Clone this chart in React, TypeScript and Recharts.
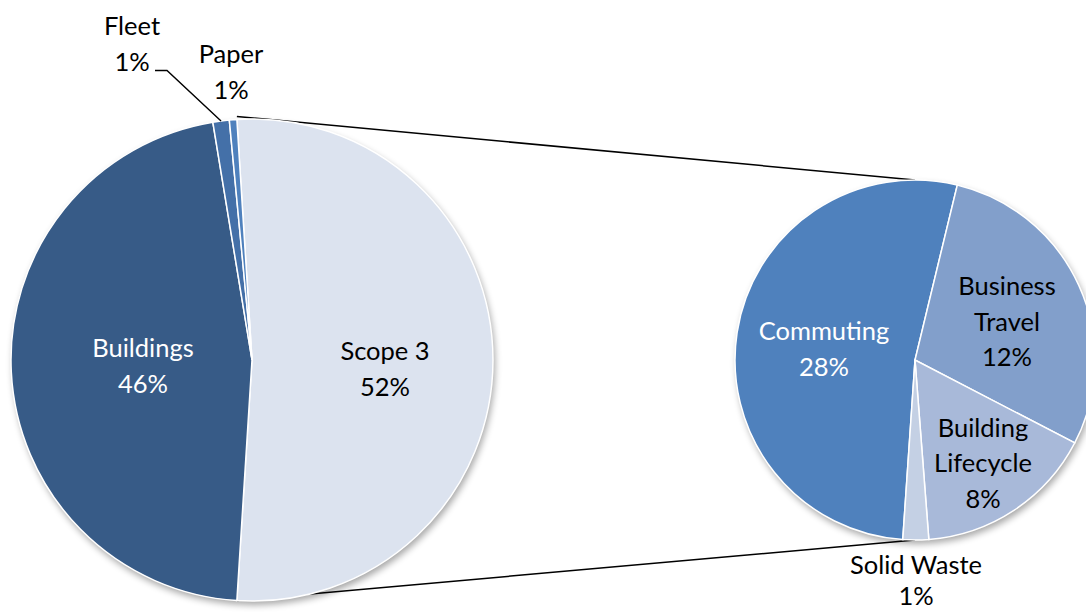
import React from 'react';
import { PieChart, Pie, Cell } from 'recharts';

// ---------- data ----------
const mainCategories = ['Scope 3', 'Buildings', 'Fleet', 'Paper'];
const mainValues = [52.0, 46.4, 1.1, 0.5];
const mainPctLabels = ['52%', '46%', '1%', '1%'];

const scope3Categories = ['Commuting', 'Business Travel', 'Building Lifecycle', 'Solid Waste'];
const scope3Values = [27.4, 15.0, 8.4, 1.2];
const scope3PctLabels = ['28%', '12%', '8%', '1%'];

// ---------- layout / style ----------
const W = 1086;
const H = 612;
const LEFT = { cx: 252, cy: 360, r: 241 };
const RIGHT = { cx: 915, cy: 360, r: 180 };
const RIGHT_START = 266.1; // degrees, where Commuting begins
const FONT = 'Lato, "Noto Sans", sans-serif';
const FONT_SIZE = 25.5;
const LINE_H = 35.5;

const mainColors = ['#DCE3EF', '#375B87', '#4470A8', '#4F81BD'];
const scope3Colors = ['#4F81BD', '#829FCB', '#A8B9D9', '#C4D0E4'];

type LabelCfg = { dx: number; dy: number; color: string; wrap?: boolean; leader?: boolean; lh?: number };

const mainLayout: LabelCfg[] = [
  { dx: 133, dy: 0, color: '#000' },
  { dx: -109, dy: -3, color: '#fff' },
  { dx: -120, dy: -325, color: '#000', leader: true },
  { dx: -21, dy: -297, color: '#000' },
];

const scope3Layout: LabelCfg[] = [
  { dx: -91, dy: -20, color: '#fff' },
  { dx: 92, dy: -65, color: '#000', wrap: true },
  { dx: 68, dy: 76.5, color: '#000', wrap: true },
  { dx: 1, dy: 214, color: '#000', lh: 31 },
];

const RAD = Math.PI / 180;

const makeLabel = (layout: LabelCfg[], pct: string[]) => (props: any) => {
  const { cx, cy, index, midAngle, outerRadius, name } = props;
  const cfg = layout[index];
  const lh = cfg.lh ?? LINE_H;
  const x = cx + cfg.dx;
  const y = cy + cfg.dy;
  const nameLines: string[] = cfg.wrap ? String(name).split(' ') : [String(name)];
  const lines = [...nameLines, pct[index]];
  const lastBaseline = y + (lines.length - 1) * lh;
  let leader: React.ReactNode = null;
  if (cfg.leader) {
    const px = cx + outerRadius * Math.cos(-midAngle * RAD);
    const py = cy + outerRadius * Math.sin(-midAngle * RAD);
    leader = (
      <polyline
        points={`${x + 23},${lastBaseline} ${x + 35},${lastBaseline} ${px},${py}`}
        fill="none"
        stroke="#000"
        strokeWidth={1.4}
      />
    );
  }
  return (
    <g key={`lbl-${index}`}>
      {leader}
      <text x={x} y={y} textAnchor="middle" fill={cfg.color} fontFamily={FONT} fontSize={FONT_SIZE}>
        {lines.map((l, i) => (
          <tspan key={i} x={x} dy={i === 0 ? 0 : lh}>
            {l}
          </tspan>
        ))}
      </text>
    </g>
  );
};

export default function App() {
  const mainData = mainCategories.map((name, i) => ({ name, value: mainValues[i] }));
  const scope3Data = scope3Categories.map((name, i) => ({ name, value: scope3Values[i] }));

  const total = mainValues.reduce((a, b) => a + b, 0);
  // Scope 3 slice is centred on the horizontal axis, facing the secondary pie
  const mainStart = (mainValues[0] / total) * 180;
  const mainEnd = mainStart - 360;

  const topL = {
    x: LEFT.cx + LEFT.r * Math.cos(mainStart * RAD),
    y: LEFT.cy - LEFT.r * Math.sin(mainStart * RAD),
  };
  const botL = {
    x: LEFT.cx + LEFT.r * Math.cos(-mainStart * RAD),
    y: LEFT.cy - LEFT.r * Math.sin(-mainStart * RAD),
  };
  const topR = { x: RIGHT.cx, y: RIGHT.cy - RIGHT.r };
  const botR = { x: RIGHT.cx, y: RIGHT.cy + RIGHT.r };

  return (
    <div style={{ position: 'absolute', left: 0, top: 0, width: W, height: H, background: '#fff', overflow: 'hidden' }}>
      <svg width={W} height={H} style={{ position: 'absolute', left: 0, top: 0 }}>
        <defs>
          <filter id="pieShadow" x="-20%" y="-20%" width="140%" height="140%">
            <feGaussianBlur stdDeviation="3.5" />
          </filter>
        </defs>
        <circle cx={LEFT.cx + 2} cy={LEFT.cy + 4} r={LEFT.r} fill="#000" opacity={0.35} filter="url(#pieShadow)" />
        <circle cx={RIGHT.cx + 2} cy={RIGHT.cy + 4} r={RIGHT.r} fill="#000" opacity={0.35} filter="url(#pieShadow)" />
        <line x1={topL.x} y1={topL.y - 3} x2={topR.x} y2={topR.y} stroke="#000" strokeWidth={1.5} />
        <line x1={botL.x} y1={botL.y} x2={botR.x} y2={botR.y} stroke="#000" strokeWidth={1.5} />
      </svg>
      <div style={{ position: 'absolute', left: 0, top: 0 }}>
        <PieChart width={W} height={H} margin={{ top: 0, right: 0, bottom: 0, left: 0 }}>
          <Pie
            data={mainData}
            dataKey="value"
            nameKey="name"
            cx={LEFT.cx}
            cy={LEFT.cy}
            outerRadius={LEFT.r}
            startAngle={mainStart}
            endAngle={mainEnd}
            stroke="#fff"
            strokeWidth={1.5}
            isAnimationActive={false}
            labelLine={false}
            label={makeLabel(mainLayout, mainPctLabels)}
          >
            {mainData.map((d, i) => (
              <Cell key={d.name} fill={mainColors[i]} />
            ))}
          </Pie>
          <Pie
            data={scope3Data}
            dataKey="value"
            nameKey="name"
            cx={RIGHT.cx}
            cy={RIGHT.cy}
            outerRadius={RIGHT.r}
            startAngle={RIGHT_START}
            endAngle={RIGHT_START - 360}
            stroke="#fff"
            strokeWidth={1.5}
            isAnimationActive={false}
            labelLine={false}
            label={makeLabel(scope3Layout, scope3PctLabels)}
          >
            {scope3Data.map((d, i) => (
              <Cell key={d.name} fill={scope3Colors[i]} />
            ))}
          </Pie>
        </PieChart>
      </div>
    </div>
  );
}
